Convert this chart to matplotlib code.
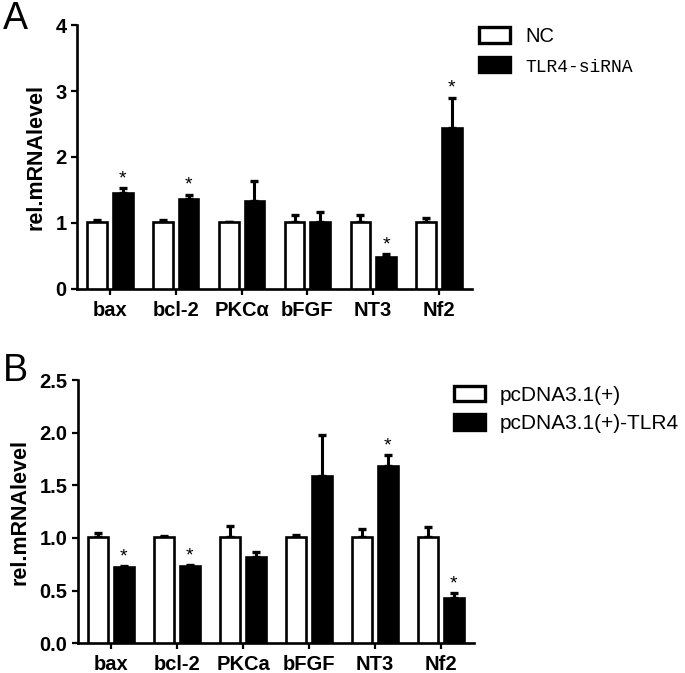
import matplotlib
matplotlib.use("Agg")
import matplotlib.pyplot as plt
from matplotlib.patches import Patch
import numpy as np

plt.rcParams['font.family'] = ['Liberation Sans', 'DejaVu Sans']

# ---- data ----
genes_a = ["bax", "bcl-2", "PKCα", "bFGF", "NT3", "Nf2"]
nc_a = [1.02, 1.02, 1.01, 1.02, 1.02, 1.02]
nc_a_err = [0.02, 0.02, 0.01, 0.10, 0.10, 0.06]
si_a = [1.45, 1.36, 1.34, 1.02, 0.48, 2.44]
si_a_err = [0.08, 0.07, 0.29, 0.15, 0.05, 0.46]
sig_a = [True, True, False, False, True, True]
legend_a = ["NC", "TLR4-siRNA"]

genes_b = ["bax", "bcl-2", "PKCa", "bFGF", "NT3", "Nf2"]
nc_b = [1.01, 1.01, 1.01, 1.01, 1.01, 1.01]
nc_b_err = [0.035, 0.01, 0.105, 0.02, 0.075, 0.09]
oe_b = [0.72, 0.735, 0.815, 1.59, 1.685, 0.433]
oe_b_err = [0.015, 0.01, 0.05, 0.39, 0.105, 0.045]
sig_b = [True, True, False, False, True, True]
legend_b = ["pcDNA3.1(+)", "pcDNA3.1(+)-TLR4"]

yticks_a = [0, 1, 2, 3, 4]
yticks_b = [0.0, 0.5, 1.0, 1.5, 2.0, 2.5]

W, H = 685, 673
fig = plt.figure(figsize=(W / 100, H / 100), dpi=100)


def px_axes(l, r, b, t):
    return fig.add_axes([l / W, 1 - b / H, (r - l) / W, (b - t) / H])


LW = 1.9
BW = 0.30
OFF = 0.195


def draw(ax, genes, ctl, ctl_err, trt, trt_err, sig, yticks, ylim, ytl, labx):
    x = np.arange(len(genes))
    ax.bar(x - OFF, ctl, BW, color="white", edgecolor="black", linewidth=LW, zorder=3)
    ax.bar(x + OFF, trt, BW, color="black", edgecolor="black", linewidth=LW, zorder=3)
    ax.errorbar(x - OFF, ctl, yerr=[np.zeros(len(x)), ctl_err], fmt="none", ecolor="black",
                elinewidth=2.2, capsize=3.0, capthick=2.4, zorder=2)
    ax.errorbar(x + OFF, trt, yerr=[np.zeros(len(x)), trt_err], fmt="none", ecolor="black",
                elinewidth=2.2, capsize=3.0, capthick=2.4, zorder=2)
    for i, s in enumerate(sig):
        if s:
            ax.annotate("*", (x[i] + OFF, trt[i] + trt_err[i]), xytext=(0, 0.5),
                        textcoords="offset points", ha="center", va="bottom", fontsize=14)
    ax.set_xlim(-0.5, len(genes) - 0.5)
    ax.set_ylim(*ylim)
    ax.set_xticks(x)
    ax.set_xticklabels(genes, fontsize=14.5, fontweight="bold")
    ax.set_yticks(yticks)
    ax.set_yticklabels(ytl, fontsize=14.5, fontweight="bold")
    for s in ["top", "right"]:
        ax.spines[s].set_visible(False)
    for s in ["left", "bottom"]:
        ax.spines[s].set_linewidth(LW)
    ax.tick_params(axis="both", direction="out", length=4.5, width=1.6)
    ax.tick_params(axis="x", pad=4)
    ax.tick_params(axis="y", pad=3)
    ax.set_ylabel("rel.mRNAlevel", fontsize=15.5, fontweight="bold")
    ax.yaxis.set_label_coords(labx, 0.5)
    ax.set_facecolor("none")


ax1 = px_axes(77, 472, 289, 25)
draw(ax1, genes_a, nc_a, nc_a_err, si_a, si_a_err, sig_a, yticks_a, (0, 4),
     [str(v) for v in yticks_a], -0.078)
ax2 = px_axes(78, 474, 643.3, 380)
draw(ax2, genes_b, nc_b, nc_b_err, oe_b, oe_b_err, sig_b, yticks_b, (0, 2.5),
     ["%.1f" % v for v in yticks_b], -0.12)

fig.text(3 / W, 1 - 29 / H, "A", fontsize=27, ha="left", va="baseline")
fig.text(3 / W, 1 - 381 / H, "B", fontsize=27, ha="left", va="baseline")

hA = [Patch(facecolor="white", edgecolor="black", linewidth=2.4),
      Patch(facecolor="black", edgecolor="black", linewidth=2.4)]
legA = fig.legend(hA, legend_a, loc="upper left", bbox_to_anchor=(479 / W, 1 - 27 / H),
                  frameon=False, fontsize=14.5, borderpad=0, borderaxespad=0,
                  handlelength=1.55, handleheight=0.8, handletextpad=0.75, labelspacing=0.55)
legA.get_texts()[1].set_fontfamily(["Liberation Mono", "DejaVu Sans Mono"])
legA.get_texts()[1].set_fontsize(13)

hB = [Patch(facecolor="white", edgecolor="black", linewidth=2.4),
      Patch(facecolor="black", edgecolor="black", linewidth=2.4)]
legB = fig.legend(hB, legend_b, loc="upper left", bbox_to_anchor=(454 / W, 1 - 386 / H),
                  frameon=False, fontsize=15, borderpad=0, borderaxespad=0,
                  handlelength=1.5, handleheight=0.75, handletextpad=0.7, labelspacing=0.45)

fig.savefig("out.png", dpi=100)
